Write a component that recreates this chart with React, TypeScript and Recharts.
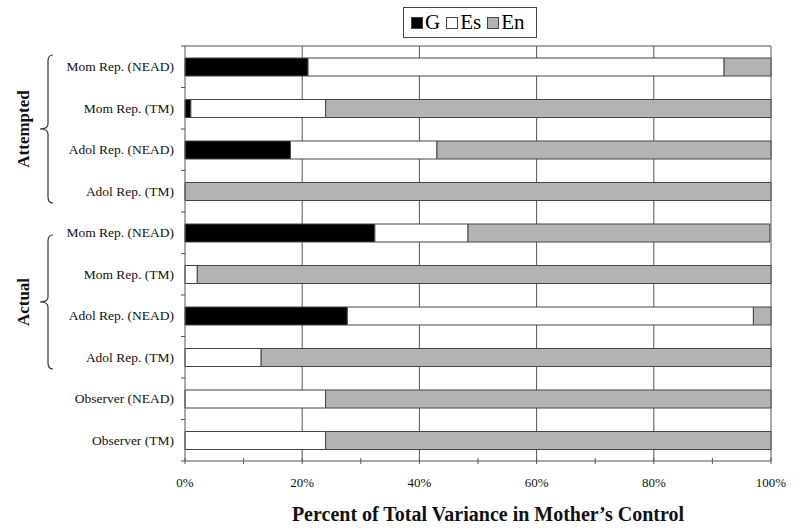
import React from 'react';
import { BarChart, Bar, XAxis, YAxis, CartesianGrid, Legend } from 'recharts';

const categories = [
  'Mom Rep. (NEAD)',
  'Mom Rep. (TM)',
  'Adol Rep. (NEAD)',
  'Adol Rep. (TM)',
  'Mom Rep. (NEAD)',
  'Mom Rep. (TM)',
  'Adol Rep. (NEAD)',
  'Adol Rep. (TM)',
  'Observer (NEAD)',
  'Observer (TM)',
];
const gValues = [21, 1, 18, 0, 32.4, 0, 27.7, 0, 0, 0];
const esValues = [71, 23, 25, 0, 15.9, 2.1, 69.3, 13, 24, 24];
const enValues = [8, 76, 57, 100, 51.5, 97.9, 3, 87, 76, 76];
const xTicks = [0, 10, 20, 30, 40, 50, 60, 70, 80, 90, 100];
const gridValues = [20, 40, 60, 80, 100];

const data = categories.map((c, i) => ({
  id: i,
  name: c,
  G: gValues[i],
  Es: esValues[i],
  En: enValues[i],
}));

const FONT = '"Liberation Serif", "Times New Roman", serif';
const W = 800;
const H = 532;
const X_H = 30;
// plot area: x 185..771, y 46..461
const M = { top: 46, right: 29, bottom: 71 - X_H, left: 0 };
const Y_W = 185;
const BAND = (H - 46 - 71) / categories.length;
const LINE = '#555';

const YTick = (props: any) => {
  const { x, y, payload, index } = props;
  return (
    <g>
      <text x={x - 11} y={y} dy="0.35em" textAnchor="end" style={{ fontFamily: FONT, fontSize: 13.5 }} fill="#111">
        {categories[payload.value]}
      </text>
      {index === 0 && <line x1={x - 4} x2={x} y1={y - BAND / 2} y2={y - BAND / 2} stroke={LINE} />}
      <line x1={x - 4} x2={x} y1={y + BAND / 2} y2={y + BAND / 2} stroke={LINE} />
    </g>
  );
};

const XTick = (props: any) => {
  const { x, y, payload } = props;
  const show = payload.value % 20 === 0;
  return (
    <g>
      <line x1={x} x2={x} y1={y - 3} y2={y + 3} stroke={LINE} />
      {show && (
        <text x={x} y={y + 26} textAnchor="middle" style={{ fontFamily: FONT, fontSize: 13 }} fill="#111">
          {payload.value}%
        </text>
      )}
    </g>
  );
};

const LegendBox = () => {
  const items = [
    { label: 'G', color: '#000' },
    { label: 'Es', color: '#fff' },
    { label: 'En', color: '#b3b3b3' },
  ];
  return (
    <div
      style={{
        display: 'flex',
        alignItems: 'center',
        border: '1px solid #444',
        padding: '2px 5px 2px 7px',
        fontFamily: FONT,
        fontSize: 21,
        lineHeight: '25px',
        background: '#fff',
      }}
    >
      {items.map((it) => (
        <span key={it.label} style={{ display: 'flex', alignItems: 'center', marginRight: 6 }}>
          <span
            style={{
              display: 'inline-block',
              width: 10,
              height: 10,
              background: it.color,
              border: '1px solid #444',
              marginRight: 2,
            }}
          />
          {it.label}
        </span>
      ))}
    </div>
  );
};

const brace = (x: number, y1: number, y2: number) => {
  const mid = (y1 + y2) / 2;
  const xb = x + 8;
  const xe = x + 13;
  return `M ${xe} ${y1} Q ${xb} ${y1} ${xb} ${y1 + 6} L ${xb} ${mid - 5} Q ${xb} ${mid} ${x} ${mid} Q ${xb} ${mid} ${xb} ${mid + 5} L ${xb} ${y2 - 6} Q ${xb} ${y2} ${xe} ${y2}`;
};

export default function App() {
  return (
    <div style={{ position: 'absolute', left: 0, top: 0, width: W, height: H, background: '#fff' }}>
      <BarChart width={W} height={H} data={data} layout="vertical" margin={M}>
        <CartesianGrid
          stroke={LINE}
          horizontalCoordinatesGenerator={({ offset }: any) => [offset.top]}
          verticalCoordinatesGenerator={({ offset }: any) =>
            gridValues.map((v) => offset.left + (offset.width * v) / 100)
          }
        />
        <XAxis
          type="number"
          domain={[0, 100]}
          ticks={xTicks}
          interval={0}
          height={X_H}
          tickLine={false}
          tickSize={0}
          tickMargin={0}
          axisLine={{ stroke: LINE }}
          tick={<XTick />}
        />
        <YAxis
          type="category"
          dataKey="id"
          width={Y_W}
          tickLine={false}
          tickSize={0}
          tickMargin={0}
          axisLine={{ stroke: LINE }}
          tick={<YTick />}
          interval={0}
        />
        <Legend
          verticalAlign="middle"
          align="center"
          layout="horizontal"
          content={<LegendBox />}
          wrapperStyle={{ position: 'absolute', top: 7, left: 403, width: 'auto' }}
        />
        <Bar dataKey="G" stackId="a" fill="#000" stroke="#444" barSize={18} isAnimationActive={false} />
        <Bar dataKey="Es" stackId="a" fill="#fff" stroke="#444" barSize={18} isAnimationActive={false} />
        <Bar dataKey="En" stackId="a" fill="#b3b3b3" stroke="#444" barSize={18} isAnimationActive={false} />
      </BarChart>
      <svg
        width={W}
        height={H}
        style={{ position: 'absolute', left: 0, top: 0, pointerEvents: 'none' }}
      >
        <path d={brace(40, 55, 203)} fill="none" stroke="#333" strokeWidth={1.2} />
        <path d={brace(40, 235, 369)} fill="none" stroke="#333" strokeWidth={1.2} />
        <text
          transform="translate(29,129) rotate(-90)"
          textAnchor="middle"
          fontFamily={FONT}
          fontWeight="bold"
          fontSize={17}
          fill="#111"
        >
          Attempted
        </text>
        <text
          transform="translate(29,302) rotate(-90)"
          textAnchor="middle"
          fontFamily={FONT}
          fontWeight="bold"
          fontSize={17}
          fill="#111"
        >
          Actual
        </text>
        <text x={488} y={521} textAnchor="middle" fontFamily={FONT} fontWeight="bold" fontSize={20} fill="#111">
          Percent of Total Variance in Mother’s Control
        </text>
      </svg>
    </div>
  );
}
